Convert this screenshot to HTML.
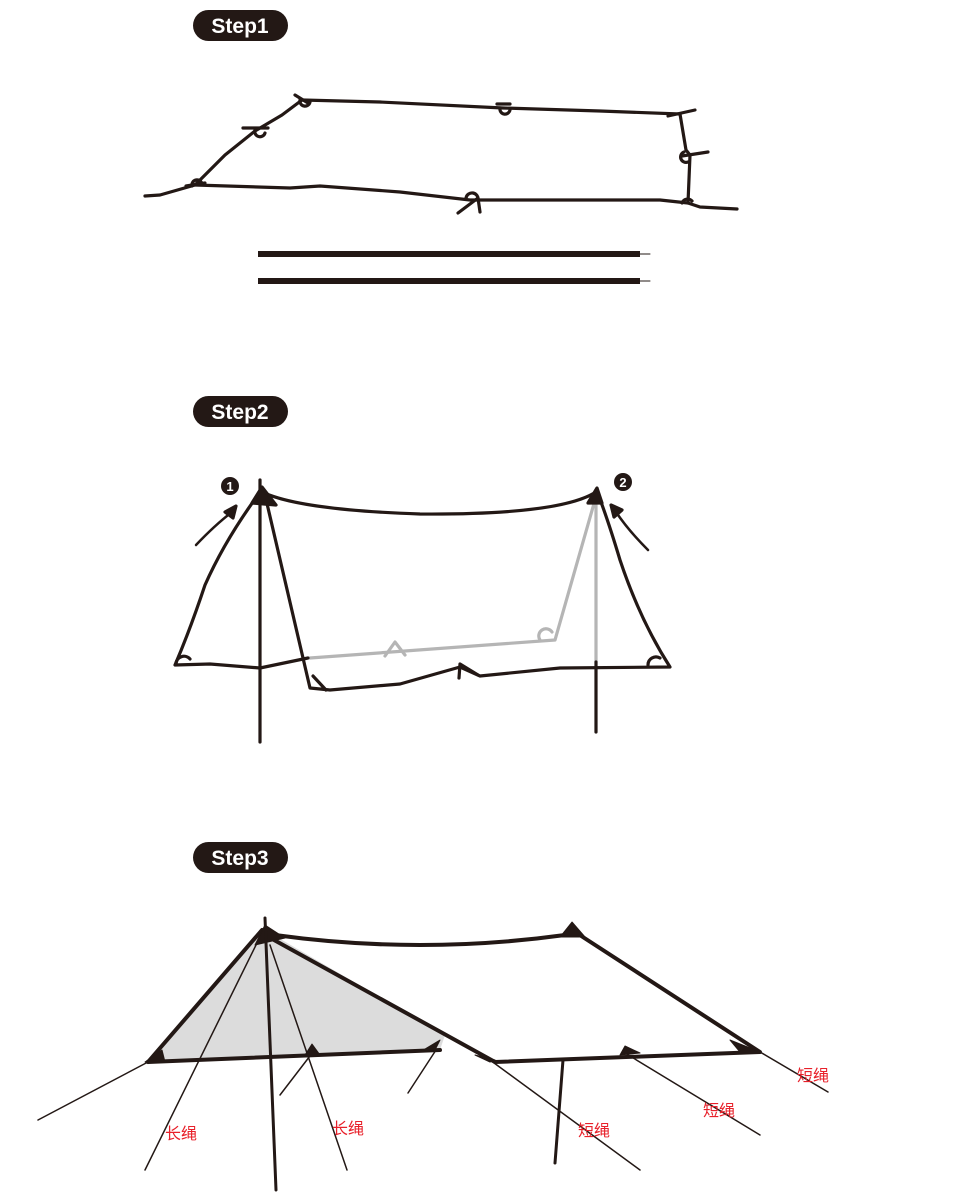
<!DOCTYPE html>
<html><head><meta charset="utf-8"><style>
html,body{margin:0;padding:0;background:#fff}
svg{display:block}
text{font-family:"Liberation Sans","Noto Sans CJK SC",sans-serif}
</style></head><body>
<svg width="970" height="1201" viewBox="0 0 970 1201">
<g fill="none" stroke="#231815" stroke-linecap="round" stroke-linejoin="round">
<!-- Step badges -->
<g><rect x="193" y="10" width="95" height="31" rx="15.5" fill="#231815" stroke="none"/><text x="240" y="33" fill="#fff" stroke="none" font-size="21" font-weight="bold" text-anchor="middle">Step1</text></g>
<g><rect x="193" y="396" width="95" height="31" rx="15.5" fill="#231815" stroke="none"/><text x="240" y="419" fill="#fff" stroke="none" font-size="21" font-weight="bold" text-anchor="middle">Step2</text></g>
<g><rect x="193" y="842" width="95" height="31" rx="15.5" fill="#231815" stroke="none"/><text x="240" y="865" fill="#fff" stroke="none" font-size="21" font-weight="bold" text-anchor="middle">Step3</text></g>

<!-- Step1 tarp flat -->
<g stroke-width="3.2">
<path d="M145,196 L160,195 L195,185 L225,155 L255,131 L282,115 L302,100 L380,102 L503,108 L600,111 L680,114 L686,150 L690,155 L688,203 L700,207 L737,209"/>
<path d="M195,185 L290,188 L320,186 L400,192 L470,200 L600,200 L660,200 L688,203"/>
<path d="M243,128 L268,128 M295,95 L308,103 M497,104 L510,104 M668,116 L695,110 M682,156 L708,152 M458,213 L478,198 L480,212 M186,186 L205,183"/>
<path d="M300,100 a5,5 0 1,0 10,2 M500,108 a5,5 0 1,0 10,2 M255,130 a5,5 0 1,0 10,3 M684,152 a5,5 0 1,0 4,10 M466,198 a6,6 0 0,1 12,2 M682,203 a6,6 0 0,1 10,-2 M192,186 a5,5 0 0,1 10,-2"/>
</g>
<g>
<line x1="258" y1="254" x2="640" y2="254" stroke-width="6" stroke-linecap="butt"/>
<line x1="640" y1="254" x2="650" y2="254" stroke-width="1"/>
<line x1="258" y1="281" x2="640" y2="281" stroke-width="6" stroke-linecap="butt"/>
<line x1="640" y1="281" x2="650" y2="281" stroke-width="1"/>
</g>

<!-- Step2 -->
<g stroke-width="3.2">
<path d="M595,500 L555,640 L310,658" stroke="#b5b5b5"/>
<path d="M596,500 L596,662" stroke="#b5b5b5"/>
<path d="M385,656 L395,642 L405,655 M540,640 a7,7 0 0,1 12,-8" stroke="#b5b5b5"/>
<path d="M262,492 Q300,510 420,514 Q560,515 596,492"/>
<path d="M258,495 Q225,540 205,585 Q190,630 175,665 L210,664 L260,668 L308,658"/>
<path d="M265,495 L310,688 L330,690 L400,684 L460,667 L480,676 L560,668 L670,667 Q640,620 620,560 Q608,520 598,494"/>
<path d="M176,664 a8,8 0 0,1 14,-5 M313,676 L326,690 M459,678 L460,664 L478,675 M648,665 a8,8 0 0,1 12,-7"/>
<line x1="260" y1="480" x2="260" y2="742"/>
<line x1="596" y1="662" x2="596" y2="732"/>
<path d="M252,503 L262,487 L276,505 Z M588,503 L597,488 L602,503 Z" fill="#231815"/>
<path d="M196,545 Q215,525 232,512" stroke-width="2.5"/>
<path d="M236,506 L225,512 L233,518 Z" fill="#231815"/>
<path d="M648,550 Q628,530 616,512" stroke-width="2.5"/>
<path d="M611,505 L622,510 L614,517 Z" fill="#231815"/>
<circle cx="230" cy="486" r="9" fill="#231815" stroke="none"/>
<text x="230" y="491" fill="#fff" stroke="none" font-size="13" font-weight="bold" text-anchor="middle">1</text>
<circle cx="623" cy="482" r="9" fill="#231815" stroke="none"/>
<text x="623" y="487" fill="#fff" stroke="none" font-size="13" font-weight="bold" text-anchor="middle">2</text>
</g>

<!-- Step3 -->
<g>
<path d="M148,1062 L265,930 L445,1035 L440,1050 Z" fill="#dcdcdc" stroke="none"/>
<path d="M148,1062 L262,930 M148,1062 L440,1050 M275,935 Q420,955 565,935 M265,935 L495,1062 L760,1052 L572,930" stroke-width="4"/>
<path d="M255,945 L265,925 L285,938 Z M560,937 L572,922 L585,937 Z M730,1040 L760,1052 L740,1052 Z M145,1062 L162,1050 L165,1062 Z M420,1052 L440,1040 L435,1050 Z M305,1055 L312,1044 L320,1055 Z M620,1055 L625,1046 L640,1053 Z M475,1055 L495,1060 L490,1062 Z" fill="#231815" stroke-width="1"/>
<line x1="265" y1="918" x2="276" y2="1190" stroke-width="3"/>
<line x1="563" y1="1060" x2="555" y2="1163" stroke-width="3"/>
<g stroke-width="1.5">
<line x1="148" y1="1062" x2="38" y2="1120"/>
<line x1="256" y1="945" x2="145" y2="1170"/>
<line x1="270" y1="945" x2="347" y2="1170"/>
<line x1="313" y1="1052" x2="280" y2="1095"/>
<line x1="436" y1="1050" x2="408" y2="1093"/>
<line x1="490" y1="1060" x2="640" y2="1170"/>
<line x1="625" y1="1053" x2="760" y2="1135"/>
<line x1="760" y1="1052" x2="828" y2="1092"/>
</g>
</g>
<g fill="#e8202a" stroke="none" font-size="16">
<text x="165" y="1139">长绳</text>
<text x="332" y="1134">长绳</text>
<text x="578" y="1136">短绳</text>
<text x="703" y="1116">短绳</text>
<text x="797" y="1081">短绳</text>
</g>
</g>
</svg>
</body></html>
